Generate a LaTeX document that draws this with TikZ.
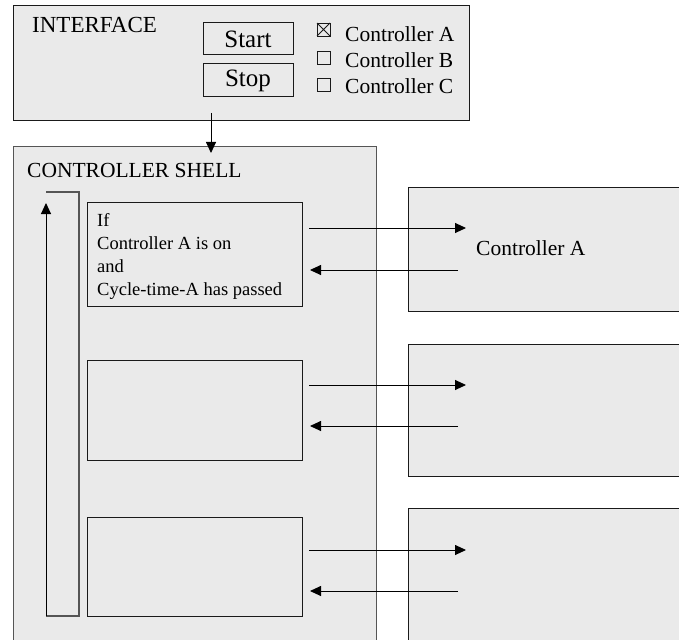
\documentclass[tikz,border=0pt]{standalone}
\usepackage{fontspec}
\setmainfont{Liberation Serif}
\usetikzlibrary{arrows.meta,calc}
\definecolor{panel}{HTML}{EAEAEA}
\definecolor{edge}{HTML}{1A1A1A}
\definecolor{softedge}{HTML}{555555}
\begin{document}
\begin{tikzpicture}[x=1pt,y=-1pt,
  box/.style={draw=edge,line width=1pt,fill=panel,inner sep=0pt,outer sep=0pt,anchor=north west},
  area/.style={fill=panel,inner sep=0pt,outer sep=0pt,anchor=north west},
  chk/.style={draw=edge,line width=0.8pt,inner sep=0pt,outer sep=0pt,minimum width=13pt,minimum height=13pt,anchor=north west},
  lbl/.style={inner sep=0pt,anchor=west,font=\fontsize{21.5}{24}\selectfont},
  tip/.style={-{Triangle[length=11pt,width=10pt]}},
  arr/.style={draw=black,line width=0.9pt,tip},
  loopline/.style={draw=softedge,line width=1.4pt}]
\useasboundingbox (0,0) rectangle (679,639);
\fill[white] (0,0) rectangle (679,639);
% interface
\node[box,minimum width=456pt,minimum height=115pt] (iface) at (13,6) {};
\node[inner sep=0pt,anchor=west,font=\fontsize{23}{26}\selectfont] (ititle) at (32,25) {INTERFACE};
\node[box,minimum width=90pt,minimum height=32pt,font=\fontsize{25}{28}\selectfont] (start) at (203,23) {Start};
\node[box,minimum width=90pt,minimum height=33pt,font=\fontsize{25}{28}\selectfont] (stop) at (203,64) {Stop};
\node[chk] (ca) at (317,23) {};
\node[chk] (cb) at (317,51) {};
\node[chk] (cc) at (317,78) {};
\draw[edge,line width=0.8pt] (ca.north west) -- (ca.south east) (ca.north east) -- (ca.south west);
\node[lbl] (la) at (345,34) {Controller A};
\node[lbl] (lb) at (345,60) {Controller B};
\node[lbl] (lc) at (345,86) {Controller C};
% shell
\node[area,minimum width=363pt,minimum height=500pt] (shell) at (13,147) {};
\draw[softedge,line width=1pt] (shell.south west) -- (shell.north west) -- (shell.north east) -- (shell.south east);
\node[inner sep=0pt,anchor=west,font=\fontsize{21.5}{24}\selectfont] (stitle) at (27,170) {CONTROLLER SHELL};
\coordinate (ifout) at (211,113);
\coordinate (shin) at (211,153);
\draw[arr] (ifout) -- (shin);
% loop
\coordinate (lt1) at (46,192);
\coordinate (lt2) at (79,192);
\coordinate (lb2) at (79,616);
\coordinate (lb1) at (46,616);
\coordinate (ltip) at (46,203);
\draw[loopline] (lt1) -- (lt2) -- (lb2) -- (lb1);
\draw[loopline,draw=black,line width=1pt,tip] (lb1) -- (ltip);
% inner boxes
\node[box,minimum width=215pt,minimum height=104pt] (b1) at (87,202) {};
\node[box,minimum width=215pt,minimum height=100pt] (b2) at (87,360) {};
\node[box,minimum width=215pt,minimum height=99pt] (b3) at (87,517) {};
\node[inner sep=0pt,anchor=west,align=left,font=\fontsize{18.5}{23}\selectfont] (cond) at (97,256)
  {If\\Controller A is on\\and\\Cycle-time-A has passed};
% controllers
\node[area,minimum width=280pt,minimum height=124pt] (ctrlA) at (408,187) {};
\draw[edge,line width=1pt] (ctrlA.north east) -- (ctrlA.north west) -- (ctrlA.south west) -- (ctrlA.south east);
\node[area,minimum width=280pt,minimum height=132pt] (ctrlB) at (408,344) {};
\draw[edge,line width=1pt] (ctrlB.north east) -- (ctrlB.north west) -- (ctrlB.south west) -- (ctrlB.south east);
\node[area,minimum width=280pt,minimum height=140pt] (ctrlC) at (408,508) {};
\draw[edge,line width=1pt] (ctrlC.north east) -- (ctrlC.north west) -- (ctrlC.south west);
\node[lbl] (ctA) at (476,248) {Controller A};
% arrows
\coordinate (o1) at (309,228); \coordinate (t1) at (466,228);
\coordinate (r1) at (458,270); \coordinate (s1) at (310,270);
\coordinate (o2) at (309,385); \coordinate (t2) at (466,385);
\coordinate (r2) at (458,426); \coordinate (s2) at (310,426);
\coordinate (o3) at (309,550); \coordinate (t3) at (466,550);
\coordinate (r3) at (458,591); \coordinate (s3) at (310,591);
\draw[arr] (o1) -- (t1);
\draw[arr] (r1) -- (s1);
\draw[arr] (o2) -- (t2);
\draw[arr] (r2) -- (s2);
\draw[arr] (o3) -- (t3);
\draw[arr] (r3) -- (s3);
\end{tikzpicture}
\end{document}
